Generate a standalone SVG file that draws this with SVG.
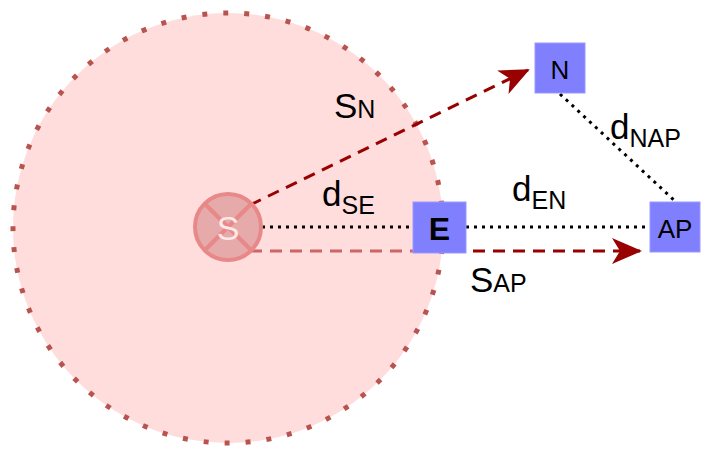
<svg xmlns="http://www.w3.org/2000/svg" width="707" height="456" viewBox="0 0 707 456">
<style>
text{font-family:"Liberation Sans",Arial,sans-serif;fill:#000}
.box{fill:#8080ff;stroke:#9999ff;stroke-width:1}
.dot{stroke:#000;stroke-width:3;stroke-dasharray:3 5;fill:none}
.lab{font-size:35px}
.sub{font-size:25px}
</style>
<defs>
<marker id="ah2" markerWidth="30" markerHeight="26" refX="28" refY="13" orient="auto" markerUnits="userSpaceOnUse"><path d="M0,0 L30,13 L0,26 L8,13 Z" fill="#990000"/></marker>
</defs>
<g id="zone"><circle cx="228" cy="228" r="215" fill="#ffdddd" stroke="#b85450" stroke-width="5" stroke-dasharray="5 16"/></g>
<g id="connectors">
<line x1="250" y1="205" x2="528" y2="70" stroke="#990000" stroke-width="3" stroke-dasharray="12 8" marker-end="url(#ah2)"/>
<line x1="250" y1="251" x2="413" y2="251" stroke="#cc6666" stroke-width="3" stroke-dasharray="12 8"/>
<line x1="413" y1="251" x2="640" y2="251" stroke="#990000" stroke-width="3" stroke-dasharray="12 8" marker-end="url(#ah2)"/>
<line class="dot" x1="262" y1="227" x2="413" y2="227"/>
<line class="dot" x1="466" y1="227" x2="650" y2="227"/>
<line class="dot" x1="560" y1="94" x2="676" y2="202"/>
</g>
<g id="S"><circle cx="228" cy="227" r="33" fill="#e6aaaa" stroke="#e88888" stroke-width="4"/>
<line x1="205" y1="204" x2="251" y2="250" stroke="#e88888" stroke-width="4"/><line x1="251" y1="204" x2="205" y2="250" stroke="#e88888" stroke-width="4"/>
<text x="228" y="240" font-size="34" text-anchor="middle" style="fill:#ffe8e8">S</text></g>
<g id="E"><rect class="box" x="413" y="202" width="53" height="51"/><text x="439.5" y="240" font-size="32" font-weight="bold" text-anchor="middle">E</text></g>
<g id="N"><rect class="box" x="535" y="43" width="50" height="50"/><text x="560" y="79" font-size="26" text-anchor="middle">N</text></g>
<g id="AP"><rect class="box" x="650" y="202" width="50" height="50"/><text x="675" y="238" font-size="26" text-anchor="middle">AP</text></g>
<g id="labels">
<text x="334" y="118" class="lab">S<tspan class="sub">N</tspan></text>
<text x="470" y="292" class="lab">S<tspan class="sub">AP</tspan></text>
<text x="322" y="206" class="lab">d<tspan class="sub" dy="8">SE</tspan></text>
<text x="512" y="201" class="lab">d<tspan class="sub" dy="8">EN</tspan></text>
<text x="610" y="139" class="lab">d<tspan class="sub" dy="8">NAP</tspan></text>
</g>
</svg>
